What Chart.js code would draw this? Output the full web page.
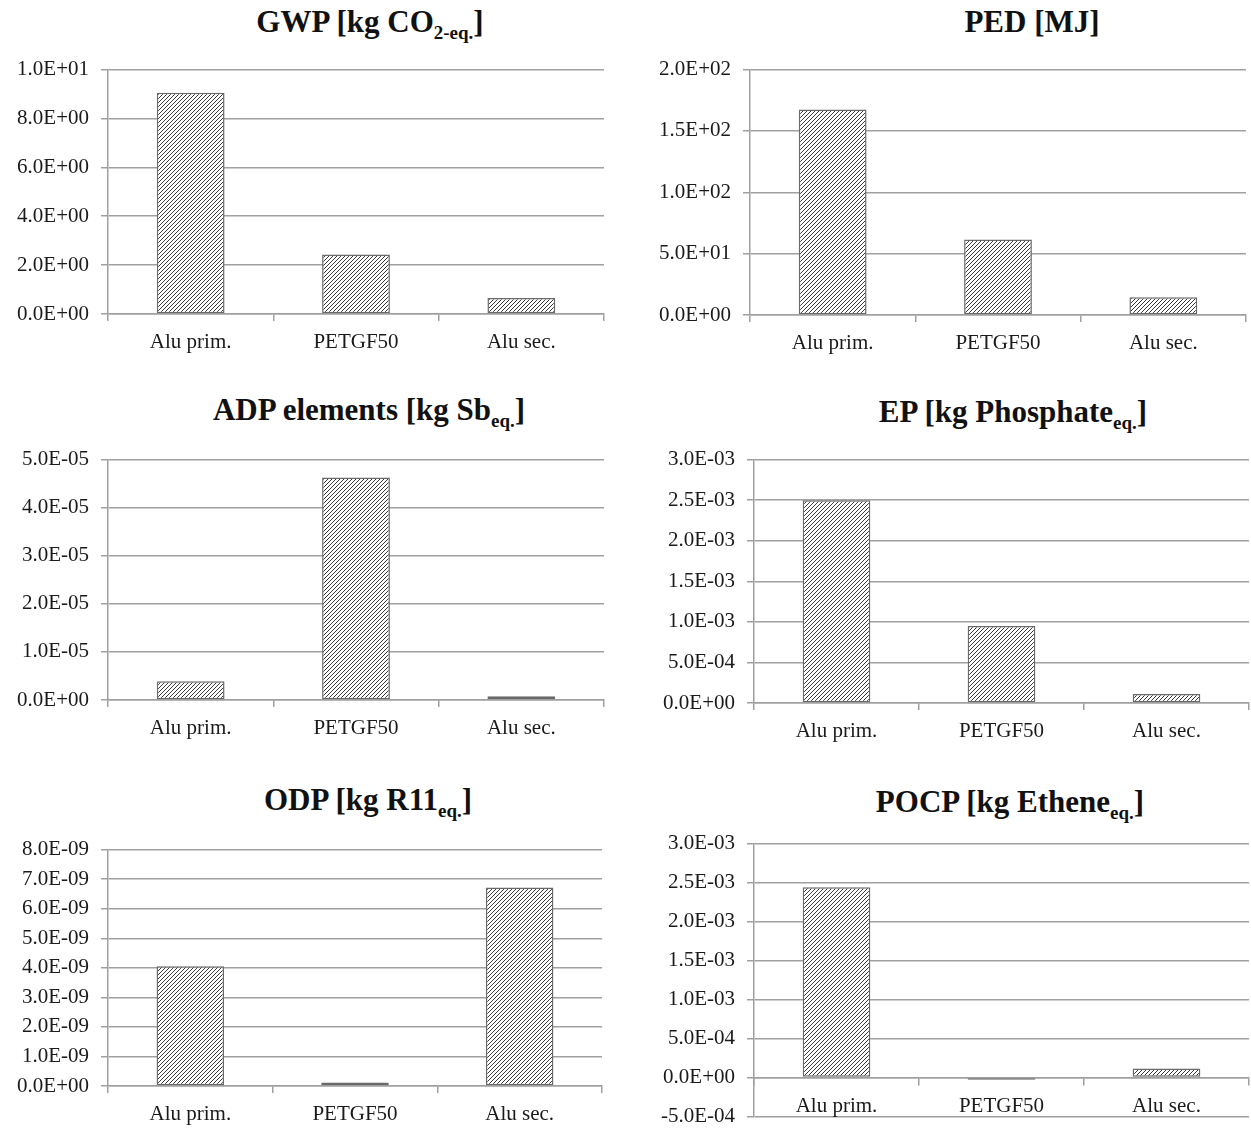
<!DOCTYPE html>
<html>
<head>
<meta charset="utf-8">
<script src="https://cdn.jsdelivr.net/npm/chart.js"></script>
<style>
body { margin: 0; background: #fff; width: 1251px; height: 1129px; position: relative; overflow: hidden; font-family: 'Liberation Serif', serif; }
canvas { position: absolute; }
.title { position: absolute; transform: translate(-50%, -50%); font-weight: bold; font-size: 31px; white-space: nowrap; color: #111; }
.title sub { font-size: 19px; vertical-align: -7px; line-height: 0; }
</style>
</head>
<body>
<script>
// values
const categories = ['Alu prim.', 'PETGF50', 'Alu sec.'];
const gwpValues = [9.05, 2.43, 0.65];
const pedValues = [167.5, 61.5, 14.5];
const adpValues = [3.9e-6, 4.63e-5, 8e-7];
const epValues = [2.5e-3, 9.5e-4, 1.1e-4];
const odpValues = [4.05e-9, 1.2e-10, 6.72e-9];
const pocpValues = [2.44e-3, -3e-5, 1.15e-4];

const axisMin = [0, 0, 0, 0, 0, -5e-4];
const axisMax = [10, 200, 5e-5, 3e-3, 8e-9, 3e-3];
const axisStep = [2, 50, 1e-5, 5e-4, 1e-9, 5e-4];

const titles = [
    'GWP [kg CO<sub>2-eq.</sub>]',
    'PED [MJ]',
    'ADP elements [kg Sb<sub>eq.</sub>]',
    'EP [kg Phosphate<sub>eq.</sub>]',
    'ODP [kg R11<sub>eq.</sub>]',
    'POCP [kg Ethene<sub>eq.</sub>]'
];

const gridColor = '#a0a0a0';
const textColor = '#1a1a1a';
const tickFont = {family: 'Liberation Serif', size: 21};

function sci(v) {
    let s = Number(v).toExponential(1);
    let [m, e] = s.split('e');
    return m + 'E' + e[0] + e.slice(1).padStart(2, '0');
}

function hatch() {
    let c = document.createElement('canvas');
    c.width = 4; c.height = 4;
    let ctx = c.getContext('2d');
    ctx.fillStyle = '#fff';
    ctx.fillRect(0, 0, 4, 4);
    ctx.strokeStyle = '#3a3a3a';
    ctx.lineWidth = 1;
    ctx.beginPath();
    ctx.moveTo(-1, 5); ctx.lineTo(5, -1);
    ctx.moveTo(-1, 1); ctx.lineTo(1, -1);
    ctx.moveTo(3, 5); ctx.lineTo(5, 3);
    ctx.stroke();
    return c.getContext('2d').createPattern(c, 'repeat');
}

function makeChart(i, values, box, plot, titlePos, zeroAxis) {
    let t = document.createElement('div');
    t.className = 'title';
    t.innerHTML = titles[i];
    t.style.left = titlePos[0] + 'px';
    t.style.top = titlePos[1] + 'px';
    document.body.appendChild(t);

    let canvas = document.createElement('canvas');
    canvas.width = box.w;
    canvas.height = box.h;
    canvas.style.left = box.x + 'px';
    canvas.style.top = box.y + 'px';
    document.body.appendChild(canvas);

    return new Chart(canvas, {
        type: 'bar',
        data: {
            labels: categories,
            datasets: [{
                data: values,
                backgroundColor: hatch(),
                borderColor: '#6a6a6a',
                borderWidth: 1.5,
                borderSkipped: false,
                categoryPercentage: 1,
                barPercentage: 0.41
            }]
        },
        options: {
            responsive: false,
            animation: false,
            layout: {
                padding: {
                    top: zeroAxis ? 0 : plot.top - box.y,
                    right: box.x + box.w - plot.right,
                    left: 0,
                    bottom: 0
                }
            },
            plugins: {legend: {display: false}, tooltip: {enabled: false}},
            scales: {
                x: {
                    position: zeroAxis ? {y: 0} : 'bottom',
                    grid: {drawOnChartArea: false, tickLength: 7, color: gridColor, lineWidth: 1.5, offset: true},
                    border: {display: true, color: gridColor, width: 1.5},
                    ticks: {color: textColor, font: tickFont, padding: 9, maxRotation: 0},
                    afterFit: s => { s.height = zeroAxis ? 0 : box.y + box.h - plot.bottom; }
                },
                y: {
                    min: axisMin[i],
                    max: axisMax[i],
                    ticks: {stepSize: axisStep[i], callback: v => sci(v), color: textColor, font: tickFont, padding: 12},
                    grid: {color: gridColor, lineWidth: 1.5, tickLength: 7},
                    border: {display: true, color: gridColor, width: 1.5},
                    afterFit: s => { s.width = plot.left - box.x; }
                }
            }
        }
    });
}

const leftCol = {x: 0, w: 625};
const rightCol = {x: 625, w: 626};

makeChart(0, gwpValues, {...leftCol, y: 45, h: 315}, {left: 108, right: 604, top: 69, bottom: 314}, [370, 22], false);
makeChart(1, pedValues, {...rightCol, y: 45, h: 315}, {left: 750, right: 1246, top: 69, bottom: 315}, [1032, 22], false);
makeChart(2, adpValues, {...leftCol, y: 435, h: 310}, {left: 108, right: 604, top: 454, bottom: 700}, [369, 410], false);
makeChart(3, epValues, {...rightCol, y: 435, h: 310}, {left: 754, right: 1249, top: 457, bottom: 703}, [1013, 412], false);
makeChart(4, odpValues, {...leftCol, y: 825, h: 304}, {left: 108, right: 602, top: 845, bottom: 1086}, [368, 800], false);
// the axis at y = 0 asks for ~23px above and ~25px below the plot, so this canvas is set round that
makeChart(5, pocpValues, {...rightCol, y: 819, h: 322}, {left: 754, right: 1249, top: 842, bottom: 1116}, [1010, 802], true);
</script>
</body>
</html>
